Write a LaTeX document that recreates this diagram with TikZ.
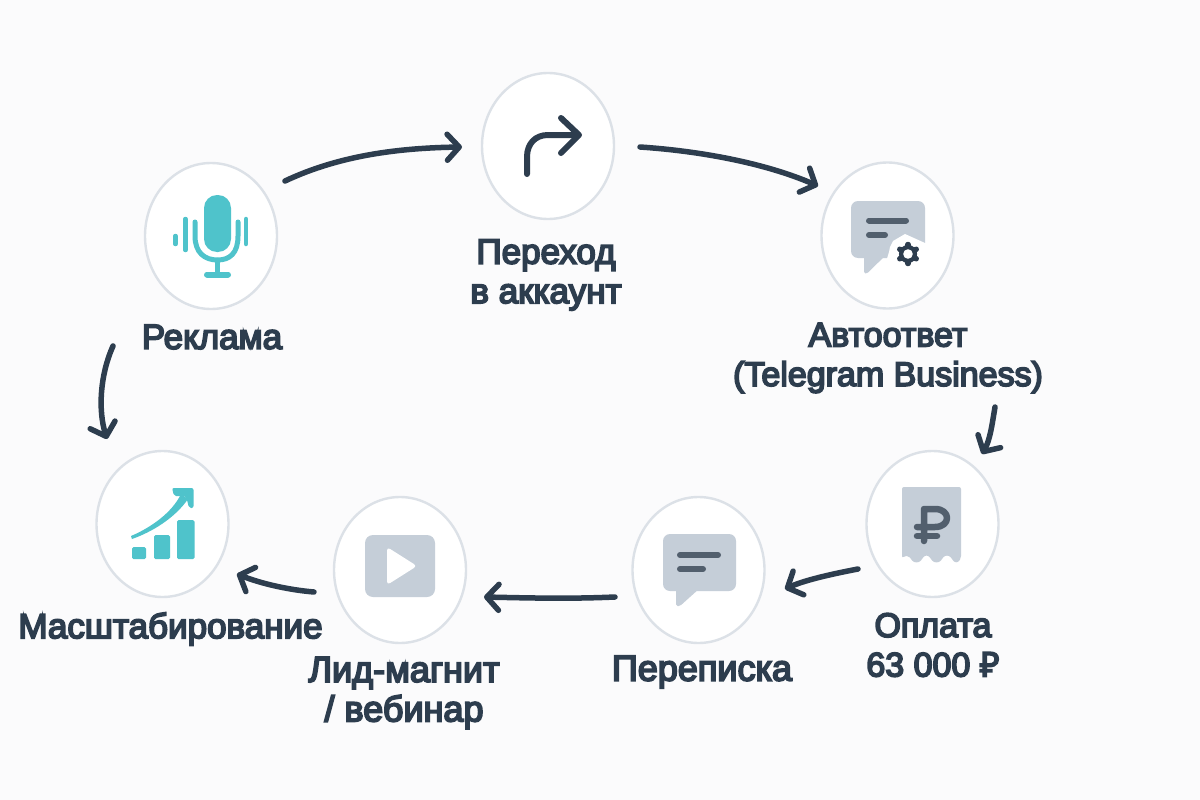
\documentclass[tikz,border=0pt]{standalone}
\usepackage{fontspec}
\setmainfont{Liberation Sans}
\newfontfamily\labfont{Liberation Sans}[FakeBold=5]
\newfontfamily\rubfont{Noto Sans}[FakeBold=5]
\usetikzlibrary{arrows.meta,shapes.geometric}
\definecolor{bgc}{HTML}{FBFBFC}
\definecolor{ink}{HTML}{2D3D4E}
\definecolor{ringc}{HTML}{DCE1E7}
\definecolor{teal}{HTML}{4FC3CB}
\definecolor{greyc}{HTML}{C5CED8}
\definecolor{barc}{HTML}{525F6D}
\tikzset{
  ring/.style={ellipse,draw=ringc,line width=2.4pt,fill=white,minimum width=132pt,minimum height=146pt,inner sep=0pt,outer sep=0pt},
  lab/.style={text=ink,font=\labfont\fontsize{#1}{39.5}\selectfont,align=center,inner sep=0pt},
  lab/.default=35,
  flow/.style={draw=ink,line width=5.5pt,line cap=round,-{Straight Barb[length=12pt,width=26pt,line width=5.5pt,round]}},
  tealline/.style={draw=teal,line cap=round},
  barline/.style={draw=barc,line width=6pt,line cap=round}
}
\begin{document}
\begin{tikzpicture}[x=1pt,y=-1pt]
\useasboundingbox (0,0) rectangle (1200,800);
\fill[bgc] (0,0) rectangle (1200,800);
\node[ring] (ad) at (211,236) {};
\node[ring] (go) at (548,146) {};
\node[ring] (auto) at (887.5,235.5) {};
\node[ring] (pay) at (932.5,524) {};
\node[ring] (chat) at (698.5,570) {};
\node[ring] (lead) at (400,570) {};
\node[ring] (scale) at (162.5,524) {};
% labels
\node[lab] (tad) at (212,337) {Реклама};
\node[lab] (tgo) at (546,275) {Переход\\в аккаунт};
\node[lab=34] (tauto) at (888,358) {Автоответ\\(Telegram Business)};
\node[lab=34] (tpay) at (933,645) {Оплата\\63 000 {\rubfont ₽}};
\node[lab=36] (tchat) at (702,672) {Переписка};
\node[lab=36] (tlead) at (404,693) {Лид-магнит\\/ вебинар};
\node[lab] (tscale) at (170.5,629) {Масштабирование};
% mic icon
\fill[teal,rounded corners=13pt] (204,195) rectangle (231,252);
\draw[tealline,line width=5pt] (195,222) -- (195,236) .. controls (195,253) and (205,260) .. (217.5,260) .. controls (230,260) and (238,253) .. (238,236) -- (238,222);
\draw[tealline,line width=4.5pt] (217.5,260) -- (217.5,274);
\draw[tealline,line width=6pt] (207,274.5) -- (228,274.5);
\draw[tealline,line width=4.5pt] (185.5,219) -- (185.5,250);
\draw[tealline,line width=4.5pt] (246,219) -- (246,244);
\draw[tealline,line width=4.5pt] (175.5,236) -- (175.5,244);
% turn arrow icon
\draw[ink,line width=6pt,line cap=round,line join=round] (527,174) -- (527,157) .. controls (527,144) and (535,135) .. (548,135) -- (578,135);
\draw[ink,line width=6pt,line cap=round,line join=round] (561,118) -- (579,135) -- (561,153);
% auto icon
\fill[greyc,rounded corners=7pt] (851,201) rectangle (925,258);
\fill[greyc,rounded corners=1.5pt] (864,250) -- (864,273.5) -- (867,273.5) -- (890,251) -- cycle;
\fill[white] (889,252) -- (890,247) -- (893,241) -- (905,234) -- (925,243) -- (930,243) -- (930,262) -- (886,262) -- cycle;
\draw[barline] (869,220.5) -- (906,220.5);
\draw[barline] (869,235) -- (885,235);
\foreach \gearangle in {30,90,150,210,270,330}
  \draw[ink,line width=5.5pt,line cap=round] (908,254) -- ++(\gearangle:9.5pt);
\draw[ink,line width=4.5pt] (908,254) circle (6.8pt);
\fill[white] (908,254) circle (4.8pt);
% receipt icon
\fill[greyc,rounded corners=2pt] (902,487) -- (961,487) -- (961,558) .. controls (958,563) and (955,563) .. (952,559)
 .. controls (949,555) and (945,555) .. (942,559) .. controls (939,563) and (934,563) .. (931,559)
 .. controls (928,555) and (925,555) .. (922,559) .. controls (919,563) and (914,563) .. (911,559)
 .. controls (908,555) and (905,556) .. (902,558) -- cycle;
\draw[barc,line width=6.5pt,line cap=round,line join=round] (924,541) -- (924,509) -- (935,509) .. controls (951,509) and (951,527) .. (935,527) -- (917,527);
\draw[barc,line width=6.5pt,line cap=round] (917,536) -- (937,536);
% chat icon
\fill[greyc,rounded corners=7pt] (663,534) rectangle (736,591);
\fill[greyc,rounded corners=1.5pt] (676,585) -- (676,606) -- (680,606) -- (700,588) -- cycle;
\draw[barline] (680,555) -- (718,555);
\draw[barline] (680,569) -- (703,569);
% play icon
\fill[greyc,rounded corners=8pt] (365,535) rectangle (435,597);
\fill[white,rounded corners=3.5pt] (387,547) -- (417,566) -- (387,585) -- cycle;
% chart icon
\fill[teal,rounded corners=1.5pt] (132,547) rectangle (146,559);
\fill[teal,rounded corners=1.5pt] (154,535) rectangle (170,559);
\fill[teal,rounded corners=1.5pt] (177,520) rectangle (194.5,559);
\fill[teal] (131,536) .. controls (150,528) and (172,513) .. (181,494) -- (188,499) .. controls (175,518) and (152,532) .. (132,539) -- cycle;
\fill[teal,rounded corners=2pt] (172,488) -- (193.5,488) -- (193.5,508) -- (189,508) -- (186,496) -- (174,496) -- cycle;
% connectors
\coordinate (a1) at (285,181); \coordinate (a2) at (462,147);
\coordinate (b1) at (640,147); \coordinate (b2) at (818,186);
\coordinate (c1) at (995,407); \coordinate (c2) at (982,454);
\coordinate (d1) at (858,569); \coordinate (d2) at (785,589);
\coordinate (e1) at (615,597); \coordinate (e2) at (484,597);
\coordinate (f1) at (314,592); \coordinate (f2) at (237,574);
\coordinate (g1) at (113,346); \coordinate (g2) at (107,439);
\draw[flow] (a1) .. controls (340,155) and (400,148) .. (a2);
\draw[flow] (b1) .. controls (700,151) and (765,163) .. (b2);
\draw[flow] (c1) .. controls (992,425) and (990,440) .. (c2);
\draw[flow] (d1) .. controls (832,574) and (805,580) .. (d2);
\draw[flow] (e1) .. controls (570,599) and (530,598) .. (e2);
\draw[flow] (f1) .. controls (290,590) and (262,584) .. (f2);
\draw[flow] (g1) .. controls (100,375) and (98,410) .. (g2);
\end{tikzpicture}
\end{document}
